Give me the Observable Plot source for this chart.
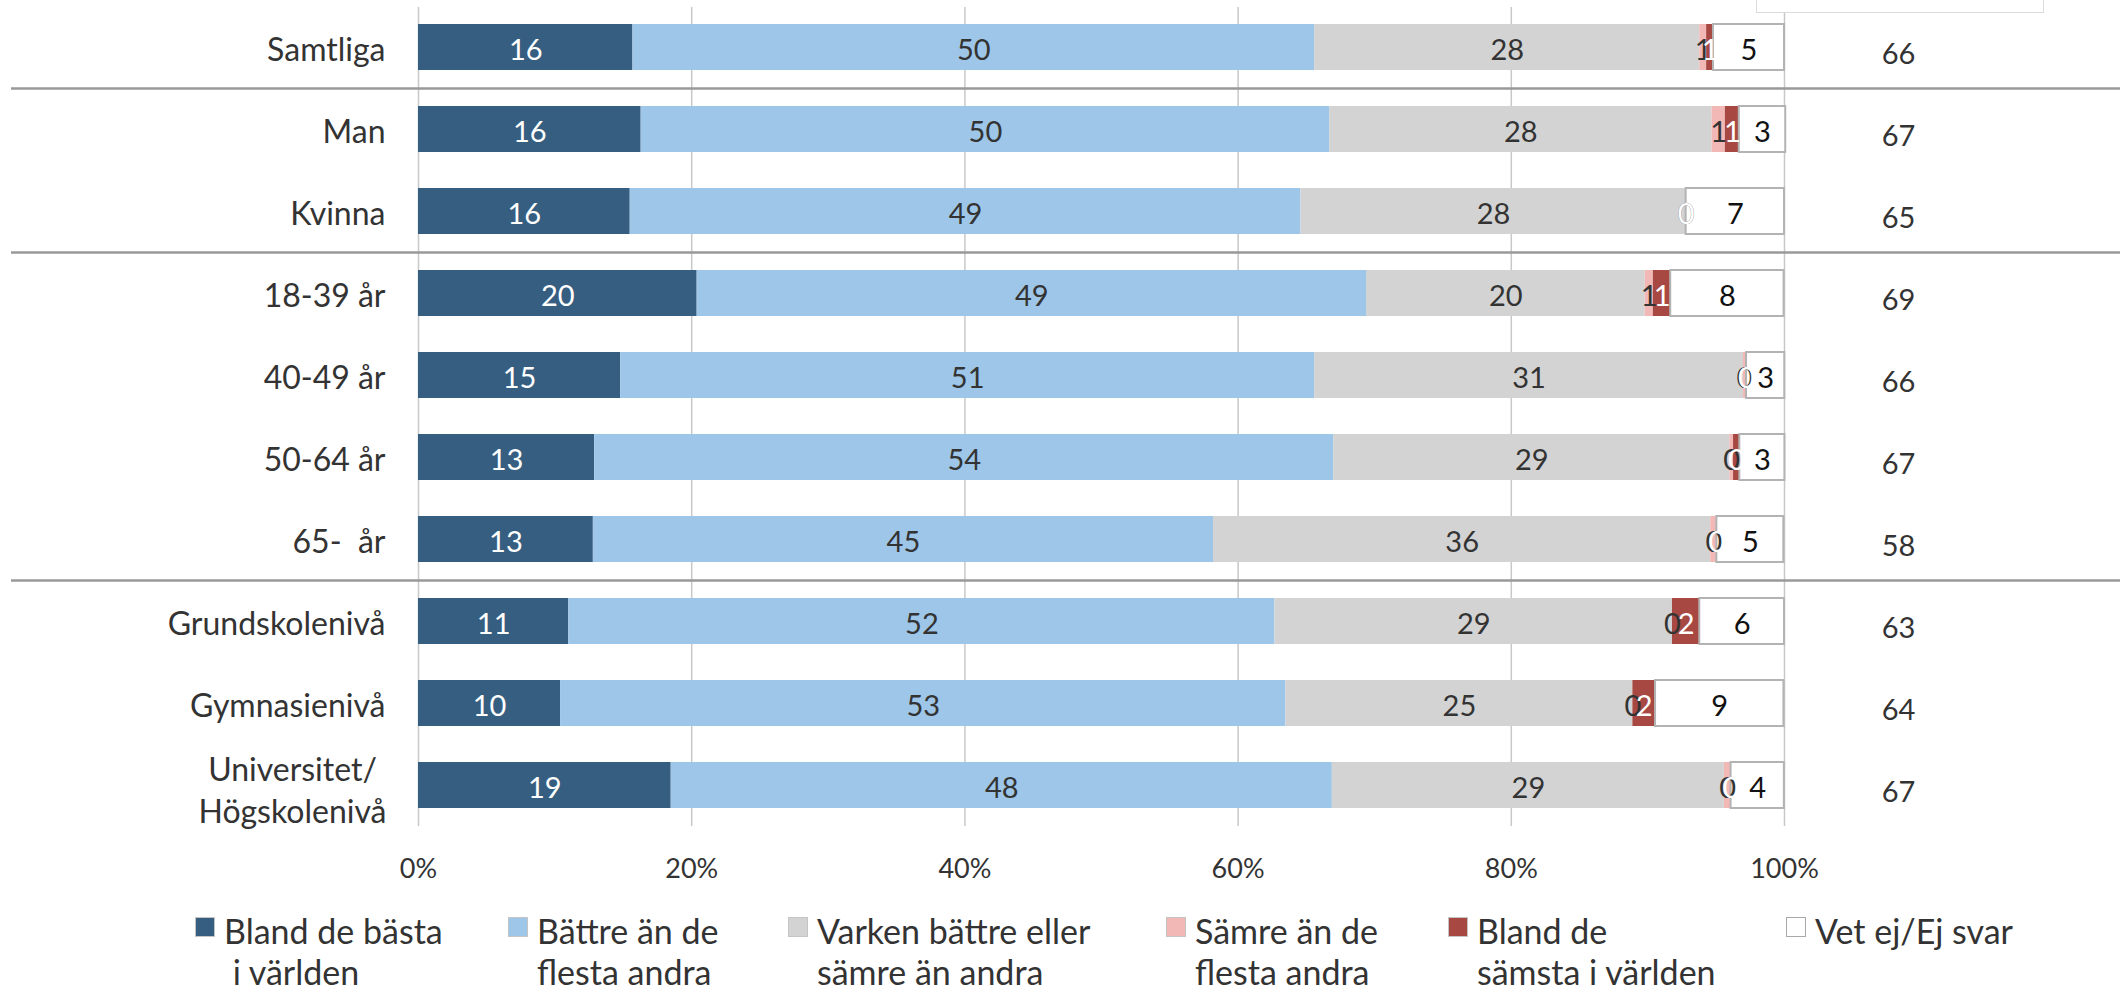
<!DOCTYPE html>
<html><head><meta charset="utf-8">
<script src="https://cdn.jsdelivr.net/npm/d3@7"></script>
<script src="https://cdn.jsdelivr.net/npm/@observablehq/plot@0.6"></script>
<style>
html,body{margin:0;padding:0;background:#fff;}
#wrap{position:relative;width:2123px;font-family:Lato,sans-serif;color:#333;}
svg text{white-space:pre;}
#topbox{position:absolute;left:1756px;top:0;width:286px;height:12px;border:1.5px solid #dcdcdc;border-top:none;background:#fff;}
#legend{position:relative;height:88px;width:2123px;font-family:Lato,sans-serif;color:#333;}
.sw{position:absolute;top:17px;width:20px;height:20px;box-sizing:border-box;border:1px solid #c4c4c4;}
.lt{position:absolute;top:10px;font-size:34px;line-height:41px;white-space:pre;}
</style></head>
<body>
<div id="wrap"><div id="chart"></div><div id="topbox"></div></div>
<div id="legend"></div>
<script>
const categories = ["Samtliga","Man","Kvinna","18-39 år","40-49 år","50-64 år","65-  år","Grundskolenivå","Gymnasienivå","Universitet/\nHögskolenivå"];
const seriesNames = ["Bland de bästa i världen","Bättre än de flesta andra","Varken bättre eller sämre än andra","Sämre än de flesta andra","Bland de sämsta i världen","Vet ej/Ej svar"];
const legendLabels = ["Bland de bästa\n i världen","Bättre än de\nflesta andra","Varken bättre eller\nsämre än andra","Sämre än de\nflesta andra","Bland de\nsämsta i världen","Vet ej/Ej svar"];
const seriesColors = ["#355E81","#9DC6E8","#D3D3D3","#F2B8B5","#A84842","#FFFFFF"];

const bast   = [15.7, 16.3, 15.5, 20.4, 14.8, 12.9, 12.8, 11.0, 10.4, 18.5];
const battre = [49.9, 50.4, 49.1, 49.0, 50.8, 54.1, 45.4, 51.7, 53.1, 48.4];
const varken = [28.2, 28.0, 28.2, 20.4, 31.4, 29.0, 36.4, 29.1, 25.4, 28.7];
const samre  = [0.5, 0.97, 0, 0.6, 0.22, 0.27, 0.45, 0, 0, 0.49];
const samst  = [0.5, 1.02, 0, 1.27, 0, 0.46, 0, 2.0, 1.66, 0];
const vetej  = [5.2, 3.4, 7.2, 8.3, 2.8, 3.3, 4.9, 6.2, 9.4, 3.9];
const totals = [66, 67, 65, 69, 66, 67, 58, 63, 64, 67];

const xTicks = [0, 20, 40, 60, 80, 100];
const groupStarts = ["Man", "18-39 år", "Grundskolenivå"];

const seriesValues = [bast, battre, varken, samre, samst, vetej];
const labelColors = ["#ffffff", "#333333", "#333333", "#333333", "#ffffff", "#111111"];

const table = [];
categories.forEach((cat, i) => {
  let acc = 0;
  seriesValues.forEach((vals, s) => {
    const v = vals[i];
    table.push({cat, series: seriesNames[s], s, value: v, x1: acc, x2: acc + v, mid: acc + v / 2, label: String(Math.round(v))});
    acc += v;
  });
});

const labelMarks = seriesNames.map((name, s) =>
  Plot.text(table.filter(d => d.s === s), {x: "mid", y: "cat", text: "label", fill: labelColors[s], fontSize: 29, dy: 3})
);

const single = categories.filter(c => !c.includes("\n"));
const multi = categories.filter(c => c.includes("\n"));

const chart = Plot.plot({
  width: 2123,
  height: 900,
  marginTop: 7,
  marginBottom: 74,
  marginLeft: 11,
  marginRight: 3,
  style: {fontFamily: "Lato, sans-serif", fontSize: "29px", color: "#333", background: "white"},
  x: {domain: [0, 100], range: [418, 1784], axis: null},
  y: {domain: categories, paddingInner: 0.433, paddingOuter: 0.207, axis: null},
  color: {domain: seriesNames, range: seriesColors},
  marks: [
    Plot.gridX(xTicks, {stroke: "#c8c8c8", strokeOpacity: 1, strokeWidth: 1.5}),
    Plot.axisX(xTicks, {tickSize: 0, tickPadding: 32, fontSize: 27, tickFormat: d => d + "%", label: null, fill: "#333"}),
    Plot.barX(table, {x1: "x1", x2: "x2", y: "cat", fill: "series"}),
    Plot.barX(table.filter(d => d.s === 5), {x1: "x1", x2: "x2", y: "cat", fill: "none", stroke: "#b3b3b3", strokeWidth: 2}),
    ...labelMarks,
    Plot.text(single, {x: 0, y: d => d, text: d => d, textAnchor: "end", dx: -33, dy: 3, fontSize: 32, fill: "#333"}),
    Plot.text(multi, {x: 0, y: d => d, text: d => d, textAnchor: "middle", dx: -126, dy: 3, lineHeight: 1.31, fontSize: 32, fill: "#333"}),
    Plot.text(totals, {x: 100, y: (d, i) => categories[i], text: d => String(d), dx: 114, dy: 7, fontSize: 29, fill: "#333"}),
    Plot.ruleY(groupStarts, {y: d => d, dy: -41, stroke: "#999999", strokeWidth: 2.5})
  ]
});
document.getElementById("chart").appendChild(chart);

const swatchLefts = [195, 508, 788, 1166, 1448, 1786];
const legend = document.getElementById("legend");
seriesNames.forEach((name, s) => {
  const sw = document.createElement("div");
  sw.className = "sw";
  sw.style.left = swatchLefts[s] + "px";
  sw.style.background = seriesColors[s];
  if (s === 5) sw.style.borderColor = "#a8a8a8";
  legend.appendChild(sw);
  const t = document.createElement("div");
  t.className = "lt";
  t.style.left = (swatchLefts[s] + 29) + "px";
  t.textContent = legendLabels[s];
  legend.appendChild(t);
});
</script>
</body></html>
